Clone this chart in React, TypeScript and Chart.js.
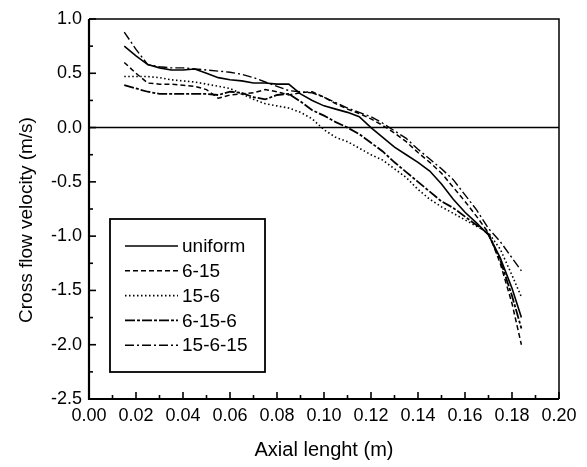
import React, { useEffect, useRef } from "react";
import { Chart, registerables } from "chart.js";
Chart.register(...registerables);

const xs = [0.015, 0.02, 0.025, 0.03, 0.035, 0.04, 0.045, 0.05, 0.055, 0.06, 0.065, 0.07, 0.075, 0.08, 0.085, 0.09, 0.095, 0.1, 0.105, 0.11, 0.115, 0.12, 0.125, 0.13, 0.135, 0.14, 0.145, 0.15, 0.155, 0.16, 0.165, 0.17, 0.175, 0.18, 0.184];

const uniform = [0.75, 0.66, 0.58, 0.55, 0.53, 0.53, 0.54, 0.5, 0.46, 0.44, 0.43, 0.41, 0.41, 0.4, 0.4, 0.31, 0.25, 0.2, 0.17, 0.14, 0.1, 0.0, -0.09, -0.18, -0.25, -0.32, -0.4, -0.52, -0.66, -0.78, -0.88, -0.99, -1.2, -1.48, -1.75];
const s6_15 = [0.6, 0.5, 0.41, 0.4, 0.4, 0.39, 0.38, 0.35, 0.27, 0.3, 0.31, 0.32, 0.35, 0.33, 0.3, 0.32, 0.33, 0.28, 0.22, 0.17, 0.13, 0.08, 0.02, -0.05, -0.13, -0.23, -0.32, -0.42, -0.55, -0.68, -0.82, -0.97, -1.25, -1.62, -2.0];
const s15_6 = [0.47, 0.47, 0.47, 0.46, 0.44, 0.43, 0.42, 0.4, 0.38, 0.36, 0.31, 0.26, 0.22, 0.2, 0.18, 0.14, 0.08, -0.02, -0.09, -0.13, -0.19, -0.25, -0.3, -0.38, -0.46, -0.57, -0.66, -0.73, -0.79, -0.85, -0.91, -0.97, -1.12, -1.36, -1.56];
const s6_15_6 = [0.39, 0.36, 0.33, 0.31, 0.31, 0.31, 0.31, 0.31, 0.3, 0.33, 0.32, 0.28, 0.26, 0.3, 0.31, 0.24, 0.16, 0.11, 0.05, 0.0, -0.06, -0.14, -0.22, -0.32, -0.41, -0.5, -0.59, -0.68, -0.74, -0.82, -0.9, -0.98, -1.22, -1.55, -1.85];
const s15_6_15 = [0.88, 0.72, 0.58, 0.56, 0.55, 0.55, 0.54, 0.53, 0.52, 0.51, 0.49, 0.46, 0.42, 0.38, 0.34, 0.33, 0.32, 0.28, 0.23, 0.18, 0.14, 0.1, 0.04, -0.03, -0.1, -0.2, -0.29, -0.38, -0.48, -0.62, -0.76, -0.93, -1.05, -1.2, -1.32];

const seriesNames = ["uniform", "6-15", "15-6", "6-15-6", "15-6-15"];
const seriesValues = [uniform, s6_15, s15_6, s6_15_6, s15_6_15];
const seriesDash = [[], [5, 3], [1.5, 2.5], [10, 2, 3, 2], [9, 3, 2, 3]];
const seriesWidth = [1.6, 1.5, 1.6, 1.8, 1.4];

const xTickValues = [0, 0.02, 0.04, 0.06, 0.08, 0.1, 0.12, 0.14, 0.16, 0.18, 0.2];
const yTickValues = [-2.5, -2.0, -1.5, -1.0, -0.5, 0.0, 0.5, 1.0];
const yTitle = "Cross flow velocity (m/s)";

const FONT = "'Liberation Sans', Arial, sans-serif";

const framePlugin = {
  id: "frame",
  afterDatasetsDraw(chart: any) {
    const { ctx, chartArea: a, scales } = chart;
    const xs_ = scales.x;
    const ys_ = scales.y;
    ctx.save();
    ctx.strokeStyle = "#000";
    ctx.setLineDash([]);
    const y0 = ys_.getPixelForValue(0);
    ctx.lineWidth = 1.5;
    ctx.beginPath();
    ctx.moveTo(a.left, y0);
    ctx.lineTo(a.right, y0);
    ctx.stroke();
    ctx.lineWidth = 1.5;
    ctx.beginPath();
    ctx.moveTo(a.left, a.top);
    ctx.lineTo(a.right, a.top);
    ctx.lineTo(a.right, a.bottom);
    ctx.stroke();
    ctx.lineWidth = 2.2;
    ctx.beginPath();
    ctx.moveTo(a.left, a.top);
    ctx.lineTo(a.left, a.bottom);
    ctx.lineTo(a.right, a.bottom);
    ctx.stroke();
    ctx.lineWidth = 1.6;
    xTickValues.forEach((v, i) => {
      const px = xs_.getPixelForValue(v);
      ctx.beginPath();
      ctx.moveTo(px, a.bottom);
      ctx.lineTo(px, a.bottom - 7);
      ctx.stroke();
      if (i < xTickValues.length - 1) {
        const pm = xs_.getPixelForValue(v + 0.01);
        ctx.beginPath();
        ctx.moveTo(pm, a.bottom);
        ctx.lineTo(pm, a.bottom - 4);
        ctx.stroke();
      }
    });
    yTickValues.forEach((v, i) => {
      const py = ys_.getPixelForValue(v);
      ctx.beginPath();
      ctx.moveTo(a.left, py);
      ctx.lineTo(a.left + 7, py);
      ctx.stroke();
      if (i < yTickValues.length - 1) {
        const pm = ys_.getPixelForValue(v + 0.25);
        ctx.beginPath();
        ctx.moveTo(a.left, pm);
        ctx.lineTo(a.left + 4, pm);
        ctx.stroke();
      }
    });
    // y title
    ctx.save();
    ctx.translate(27, 220);
    ctx.rotate(-Math.PI / 2);
    ctx.font = `19px ${FONT}`;
    ctx.fillStyle = "#000";
    ctx.textAlign = "center";
    ctx.textBaseline = "middle";
    ctx.fillText(yTitle, 0, 0);
    ctx.restore();
    // legend
    const lx = 110, ly = 219, lw = 155, lh = 153;
    ctx.fillStyle = "#fff";
    ctx.fillRect(lx, ly, lw, lh);
    ctx.lineWidth = 1.8;
    ctx.strokeRect(lx, ly, lw, lh);
    ctx.font = `19px ${FONT}`;
    ctx.textBaseline = "middle";
    ctx.textAlign = "left";
    ctx.fillStyle = "#000";
    seriesNames.forEach((name, i) => {
      const ry = 246 + i * 24.8;
      ctx.setLineDash(seriesDash[i]);
      ctx.lineWidth = seriesWidth[i];
      ctx.beginPath();
      ctx.moveTo(125, ry);
      ctx.lineTo(178, ry);
      ctx.stroke();
      ctx.setLineDash([]);
      ctx.fillText(name, 182, ry + 1);
    });
    ctx.restore();
  },
};

export default function App() {
  const ref = useRef<HTMLCanvasElement | null>(null);
  useEffect(() => {
    document.body.style.margin = "0";
    const canvas = ref.current;
    if (!canvas) return;
    const chart = new Chart(canvas, {
      type: "line",
      data: {
        datasets: seriesNames.map((name, i) => ({
          label: name,
          data: xs.map((x, j) => ({ x, y: seriesValues[i][j] })),
          borderColor: "#000",
          backgroundColor: "#000",
          borderWidth: seriesWidth[i],
          borderDash: seriesDash[i],
          pointRadius: 0,
          tension: 0,
          fill: false,
        })),
      },
      options: {
        responsive: false,
        animation: false,
        layout: { padding: { top: 19, right: 28, left: 0, bottom: 0 } },
        plugins: { legend: { display: false }, tooltip: { enabled: false } },
        scales: {
          x: {
            type: "linear",
            min: 0,
            max: 0.2,
            afterFit: (s: any) => {
              s.height = 68;
            },
            afterBuildTicks: (s: any) => {
              s.ticks = xTickValues.map((v) => ({ value: v }));
            },
            ticks: {
              callback: (v: any) => Number(v).toFixed(2),
              font: { size: 18, family: FONT },
              color: "#000",
              padding: 6,
              maxRotation: 0,
              autoSkip: false,
            },
            grid: { display: false, drawTicks: false },
            border: { display: false },
            title: {
              display: true,
              text: "Axial lenght (m)",
              font: { size: 20, family: FONT },
              color: "#000",
              padding: { top: 0, bottom: 5 },
            },
          },
          y: {
            type: "linear",
            min: -2.5,
            max: 1.0,
            afterFit: (s: any) => {
              s.width = 89;
            },
            afterBuildTicks: (s: any) => {
              s.ticks = yTickValues.map((v) => ({ value: v }));
            },
            ticks: {
              callback: (v: any) => Number(v).toFixed(1),
              font: { size: 18, family: FONT },
              color: "#000",
              padding: 7,
              autoSkip: false,
            },
            grid: { display: false, drawTicks: false },
            border: { display: false },
            title: { display: false },
          },
        },
      },
      plugins: [framePlugin],
    });
    return () => chart.destroy();
  }, []);
  return (
    <div style={{ width: 587, height: 467 }}>
      <canvas ref={ref} width={587} height={467} />
    </div>
  );
}
